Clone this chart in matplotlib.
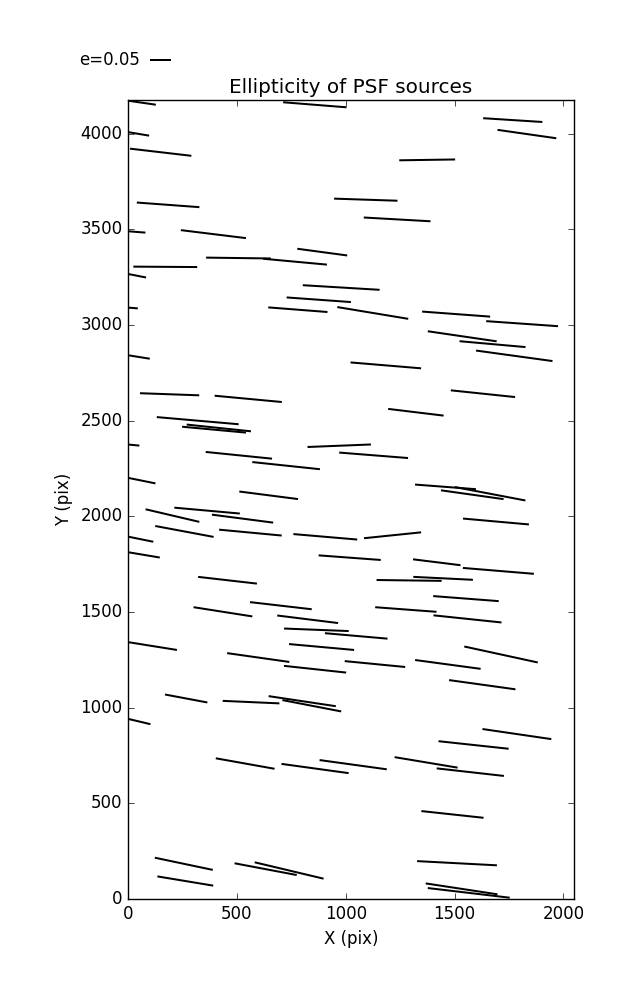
#whisker plot of PSF ellipticity across the CCD
#each whisker: centre (x, y), ellipticity components (e1, e2)

import numpy as np
import matplotlib.pyplot as plt

plt.style.use('classic')

x = [14, 858, 1767, 1832, -41, 150, 1374, 184, 1092, -58,
     392, 892, 1236, 507, 767, 171, -55, 979, 876, 780,
     1124, -93, 1507, 1810, 1535, 1674, 1774, -38, 1184, 191,
     552, 1630, 1322, 320, 417, 395, -86, 970, 1128, 509,
     726, -12, 1458, 1581, 1663, 646, 363, 204, 526, 1690,
     259, 562, 906, 1215, -22, 8, 1018, 1418, 1701, 457,
     1291, 1447, 702, 1552, 436, 1276, 825, 1559, 865, 1048,
     80, 889, 1713, 598, 1134, 1469, 859, 1627, 267, 565,
     800, 844, -35, 1786, 1587, 538, 859, 1034, 1369, 1572,
     1490, 1511, 256, 263, 632, 740, 1532, 1565]
y = [4170, 4151, 4071, 3998, 4016, 3903, 3863, 3628, 3655, 3495,
     3475, 3381, 3552, 3350, 3331, 3304, 3279, 3196, 3132, 3080,
     3063, 3099, 3057, 3007, 2941, 2900, 2839, 2849, 2789, 2638,
     2614, 2641, 2544, 2500, 2462, 2453, 2385, 2369, 2319, 2319,
     2265, 2204, 2154, 2113, 2118, 2110, 2030, 2004, 1988, 1973,
     1921, 1915, 1893, 1901, 1899, 1811, 1784, 1760, 1715, 1666,
     1665, 1676, 1533, 1570, 1501, 1513, 1462, 1464, 1407, 1375,
     1328, 1317, 1278, 1262, 1228, 1226, 1201, 1120, 1048, 1029,
     1034, 1010, 951, 862, 805, 708, 682, 702, 714, 663,
     442, 187, 184, 94, 156, 149, 53, 32]
e1 = [0.118, 0.151, 0.141, 0.140, 0.143, 0.146, 0.133, 0.149, 0.151, 0.143,
      0.155, 0.119, 0.159, 0.154, 0.152, 0.152, 0.143, 0.183, 0.153, 0.141,
      0.169, 0.143, 0.162, 0.171, 0.164, 0.157, 0.182, 0.143, 0.168, 0.141,
      0.160, 0.153, 0.132, 0.195, 0.153, 0.152, 0.143, 0.151, 0.164, 0.158,
      0.161, 0.143, 0.145, 0.149, 0.168, 0.140, 0.156, 0.128, 0.146, 0.157,
      0.139, 0.149, 0.152, 0.136, 0.143, 0.143, 0.148, 0.113, 0.169, 0.140,
      0.155, 0.142, 0.147, 0.156, 0.140, 0.146, 0.145, 0.162, 0.154, 0.149,
      0.150, 0.155, 0.175, 0.148, 0.144, 0.156, 0.148, 0.158, 0.101, 0.135,
      0.160, 0.140, 0.143, 0.164, 0.167, 0.140, 0.160, 0.160, 0.150, 0.160,
      0.148, 0.190, 0.138, 0.133, 0.148, 0.164, 0.171, 0.195]
e2 = [-0.017, -0.012, -0.009, -0.020, -0.024, -0.017, 0.002, -0.011, -0.005, -0.011,
      -0.019, -0.016, -0.009, -0.002, -0.014, -0.001, -0.028, -0.011, -0.011, -0.011,
      -0.028, -0.011, -0.012, -0.012, -0.024, -0.014, -0.025, -0.023, -0.014, -0.005,
      -0.015, -0.016, -0.016, -0.017, -0.016, -0.014, -0.014, 0.006, -0.013, -0.016,
      -0.017, -0.029, -0.011, -0.021, -0.032, -0.018, -0.014, -0.030, -0.019, -0.014,
      -0.026, -0.014, -0.013, 0.014, -0.029, -0.024, -0.011, -0.014, -0.014, -0.016,
      -0.002, -0.007, -0.017, -0.012, -0.022, -0.011, -0.018, -0.017, -0.006, -0.013,
      -0.024, -0.014, -0.038, -0.021, -0.014, -0.021, -0.016, -0.022, -0.019, -0.006,
      -0.024, -0.027, -0.034, -0.024, -0.018, -0.025, -0.022, -0.022, -0.025, -0.018,
      -0.016, -0.010, -0.029, -0.022, -0.028, -0.039, -0.026, -0.023]

fig = plt.figure(figsize=(6.37, 10), dpi=100)
ax = fig.add_axes([0.201, 0.101, 0.700, 0.799])

q = ax.quiver(x, y, e1, e2, angles='uv', pivot='middle', scale_units='width',
              scale=1.062, width=0.0045, headwidth=0, headlength=0,
              headaxislength=0, color='black')
ax.quiverkey(q, 0.2355, 0.94, 0.05, 'e=0.05', labelpos='W', coordinates='figure',
             fontproperties={'size': 12})

ax.set_xlim(0, 2048)
ax.set_ylim(0, 4176)
ax.set_xticks(np.arange(0, 2001, 500))
ax.set_yticks(np.arange(0, 4001, 500))
ax.set_title('Ellipticity of PSF sources')
ax.set_xlabel('X (pix)')
ax.set_ylabel('Y (pix)')

fig.savefig('out.png', dpi=100)
